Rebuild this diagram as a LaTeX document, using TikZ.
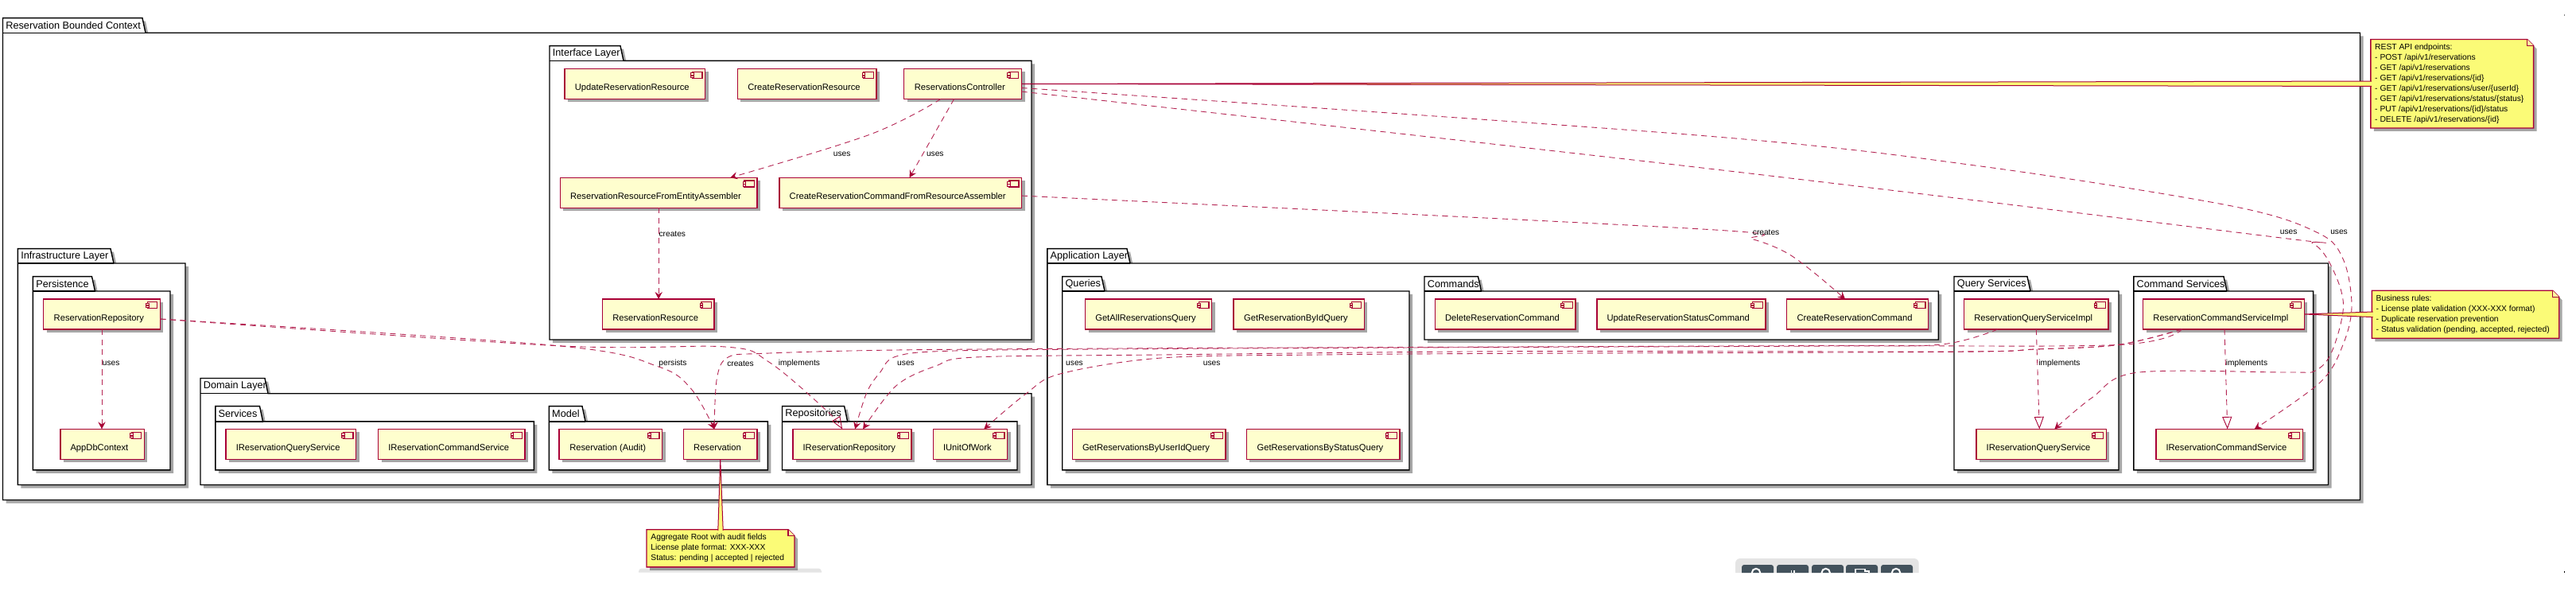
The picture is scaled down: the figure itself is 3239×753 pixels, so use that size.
\documentclass[tikz,border=0pt]{standalone}
\usepackage{xcolor}
\usepackage{fontspec}
\setmainfont{Liberation Sans}
\usepackage{tikz}
\usetikzlibrary{arrows.meta,shadows,calc}
\definecolor{umlred}{HTML}{A80036}
\definecolor{compfill}{HTML}{FEFECE}
\definecolor{notefill}{HTML}{FBFB77}
\definecolor{barback}{HTML}{E4E4E4}
\definecolor{barbutton}{HTML}{43525C}
% package with its tab: name, left, right, tab top, body top, bottom, tab right, label
\newcommand{\pkgbox}[8]{
  \draw[pkgline] (#2,#4) -- (#2,#6) -- (#3,#6) -- (#3,#5) -- (#7,#5) -- (#7-4,#4) -- cycle;
  \draw[pkgrule] (#2,#5) -- (#7,#5);
  \node[pkglabel] (#1) at (#2+3.5,{(#4+#5)/2}) {#8};
}
% note outline round an empty node, with the folded corner
\newcommand{\foldnote}[1]{
  \draw[noteline] (#1.north west) -- ([xshift=-4pt]#1.north east) -- ([yshift=-4pt]#1.north east) -- (#1.south east) -- (#1.south west) -- cycle;
  \draw[notefold] ([xshift=-4pt]#1.north east) -- ([xshift=-4pt,yshift=-4pt]#1.north east) -- ([yshift=-4pt]#1.north east);
}

\begin{document}
\begin{tikzpicture}[
    x=.5pt,y=-.5pt,
    pkgline/.style={draw=black,line width=.7pt,fill=white,drop shadow={shadow xshift=2pt,shadow yshift=-2pt,opacity=.35,fill=black}},
    pkgrule/.style={draw=black,line width=.7pt},
    pkglabel/.style={anchor=west,inner sep=0pt,font=\fontsize{6.35}{7.5}\selectfont},
    comp/.style={anchor=north west,draw=umlred,line width=.7pt,fill=compfill,minimum height=19pt,inner xsep=6.35pt,inner ysep=0pt,outer sep=0pt,
      text height=8.5pt,text depth=0pt,font=\fontsize{5.6}{6.5}\selectfont,execute at end node={\hspace{3.65pt}},
      drop shadow={shadow xshift=2pt,shadow yshift=-2pt,opacity=.35,fill=black},
      path picture={
        \draw[draw=umlred,line width=.6pt,fill=compfill] ([xshift=-1.85pt,yshift=-1.9pt]path picture bounding box.north east) rectangle ++(-6.15pt,-4pt);
        \draw[draw=umlred,line width=.5pt,fill=compfill] ([xshift=-7.15pt,yshift=-2.75pt]path picture bounding box.north east) rectangle ++(-1.85pt,-1.25pt);
        \draw[draw=umlred,line width=.5pt,fill=compfill] ([xshift=-7.15pt,yshift=-4.3pt]path picture bounding box.north east) rectangle ++(-1.85pt,-1.1pt);
      }},
    notebox/.style={anchor=north west,inner sep=0pt,outer sep=0pt},
    noteline/.style={draw=umlred,line width=.7pt,fill=notefill,drop shadow={shadow xshift=2pt,shadow yshift=-2pt,opacity=.35,fill=black}},
    notefold/.style={draw=umlred,line width=.55pt,fill=notefill!70!white},
    notetext/.style={anchor=west,inner sep=0pt,align=left,font=\fontsize{5.15}{6.5}\selectfont},
    wedge/.style={draw=umlred,line width=.5pt,fill=notefill},
    uses/.style={draw=umlred!85!white,line width=.45pt,dash pattern=on 3.6pt off 2.7pt,-{Stealth[length=4.5pt,width=4.6pt,inset=1.6pt,color=umlred]}},
    realizes/.style={draw=umlred!85!white,line width=.45pt,dash pattern=on 3.6pt off 2.7pt,-{Triangle[open,length=7.75pt,width=6pt,color=umlred]}},
    deplabel/.style={inner sep=0pt,font=\fontsize{5.1}{6}\selectfont}
  ]
    \useasboundingbox (0,0) rectangle (3239,753);
    \fill[white] (0,0) rectangle (3239,753);

    % packages
    \pkgbox{boundedCtx}{3.5}{2967.5}{22.6}{41.3}{628.5}{183}{Reservation Bounded Context}
    \pkgbox{interfaceLayer}{691}{1297}{57.6}{76.4}{427}{784}{Interface Layer}
    \pkgbox{infraLayer}{22.4}{233}{312.7}{331}{609.5}{143}{Infrastructure Layer}
    \pkgbox{persistence}{41.4}{214}{347.7}{366}{590.8}{119.5}{Persistence}
    \pkgbox{domainLayer}{252}{1297}{475.5}{494.7}{609.5}{337}{Domain Layer}
    \pkgbox{domServices}{270.8}{671.3}{510.6}{529.8}{590.8}{330.5}{Services}
    \pkgbox{domModel}{690.3}{965.3}{510.6}{529.8}{590.8}{736}{Model}
    \pkgbox{domRepos}{983.5}{1279}{510.6}{529.8}{590.8}{1065.6}{Repositories}
    \pkgbox{appLayer}{1316.8}{2927.5}{312.7}{331}{609.5}{1421}{Application Layer}
    \pkgbox{appQueries}{1335.7}{1772}{347.7}{366}{590.8}{1389}{Queries}
    \pkgbox{appCommands}{1791}{2437.3}{347.7}{366}{427}{1862.5}{Commands}
    \pkgbox{appQueryServices}{2457}{2664}{347.7}{366}{590.8}{2553}{Query Services}
    \pkgbox{appCmdServices}{2682.8}{2908.6}{347.7}{366}{590.8}{2800}{Command Services}

    % interface layer
    \node[comp,minimum width=88.35pt] (updRes) at (710,86.5) {UpdateReservationResource};
    \node[comp,minimum width=87.3pt] (createRes) at (927.4,86.5) {CreateReservationResource};
    \node[comp,minimum width=74pt] (ctrl) at (1136.5,86.5) {ReservationsController};
    \node[comp,minimum width=123.85pt] (resAsm) at (704.3,223.3) {ReservationResourceFromEntityAssembler};
    \node[comp,minimum width=152.25pt] (cmdAsm) at (980,223.3) {CreateReservationCommandFromResourceAssembler};
    \node[comp,minimum width=70.2pt] (resource) at (757.6,376) {ReservationResource};

    % infrastructure layer
    \node[comp,minimum width=73.3pt] (repo) at (54.7,376) {ReservationRepository};
    \node[comp,minimum width=52.25pt] (dbCtx) at (75.8,539.4) {AppDbContext};

    % domain layer
    \node[comp,minimum width=81.8pt] (domQuery) at (284,539.4) {IReservationQueryService};
    \node[comp,minimum width=91.55pt] (domCmd) at (475.6,539.4) {IReservationCommandService};
    \node[comp,minimum width=64.85pt] (auditRes) at (703,539.4) {Reservation (Audit)};
    \node[comp,minimum width=46.3pt] (reservation) at (859.4,539.4) {Reservation};
    \node[comp,minimum width=74.4pt] (iRepo) at (996.9,539.4) {IReservationRepository};
    \node[comp,minimum width=46.2pt] (uow) at (1173.3,539.4) {IUnitOfWork};

    % application layer
    \node[comp,minimum width=79.6pt] (qAll) at (1364.5,376) {GetAllReservationsQuery};
    \node[comp,minimum width=82.1pt] (qById) at (1551,376) {GetReservationByIdQuery};
    \node[comp,minimum width=95.75pt] (qByUser) at (1348.3,539.4) {GetReservationsByUserIdQuery};
    \node[comp,minimum width=96.4pt] (qByStatus) at (1567.2,539.4) {GetReservationsByStatusQuery};
    \node[comp,minimum width=88.05pt] (cDelete) at (1804.3,376) {DeleteReservationCommand};
    \node[comp,minimum width=105.7pt] (cUpdate) at (2007.8,376) {UpdateReservationStatusCommand};
    \node[comp,minimum width=89.05pt] (cCreate) at (2246.6,376) {CreateReservationCommand};
    \node[comp,minimum width=90.45pt] (qImpl) at (2469.6,376) {ReservationQueryServiceImpl};
    \node[comp,minimum width=100.65pt] (cImpl) at (2694.7,376) {ReservationCommandServiceImpl};
    \node[comp,minimum width=81.35pt] (appQuery) at (2485,539.4) {IReservationQueryService};
    \node[comp,minimum width=91.55pt] (appCmd) at (2710.8,539.4) {IReservationCommandService};

    % bars at the foot, cut off by the page edge
    \fill[barback,rounded corners=2pt] (803,719.5) -- (803,714.5) -- (1033,714.5) [sharp corners] -- (1033,719.5) -- cycle;
    \fill[barback,rounded corners=3pt] (2182,720) -- (2182,702) -- (2412.7,702) [sharp corners] -- (2412.7,720) -- cycle;
    \foreach \bx in {2190,2234,2278,2321,2365}
      \fill[barbutton,rounded corners=1.5pt] (\bx,720) -- (\bx,710) -- (\bx+40,710) [sharp corners] -- (\bx+40,720) -- cycle;
    \begin{scope}
      \clip (2182,702) rectangle (2413,720);
      \foreach \bx in {2208,2295.7,2384}
        \draw[white,line width=1pt] (\bx,720) circle[radius=2.6pt];
      \draw[white,line width=.8pt] (2252.5,716.5) -- (2252.5,720) (2256,716.5) -- (2256,720);
      \draw[white,line width=.8pt] (2333,720) -- (2333,715.5) -- (2345,715.5) -- (2345,718) -- (2350,718) -- (2350,720);
    \end{scope}
    \fill[gray] (3223.5,18.5) rectangle (3225,20);
    \fill[black] (3223.5,718) rectangle (3225,720);

    % notes
    \node[notebox,minimum width=102.4pt,minimum height=55.75pt] (restNote) at (2980.8,49.5) {};
    \foldnote{restNote}
    \node[notebox,minimum width=117.7pt,minimum height=30pt] (rulesNote) at (2982.3,365.3) {};
    \foldnote{rulesNote}
    \node[notebox,minimum width=93pt,minimum height=23.6pt] (rootNote) at (813,665.7) {};
    \foldnote{rootNote}
    \node[notetext] (restText) at ([xshift=2.5pt]restNote.west) {REST API endpoints:\\- POST /api/v1/reservations\\- GET /api/v1/reservations\\- GET /api/v1/reservations/\{id\}\\- GET /api/v1/reservations/user/\{userId\}\\- GET /api/v1/reservations/status/\{status\}\\- PUT /api/v1/reservations/\{id\}/status\\- DELETE /api/v1/reservations/\{id\}};
    \node[notetext] (rulesText) at ([xshift=2.5pt]rulesNote.west) {Business rules:\\- License plate validation (XXX-XXX format)\\- Duplicate reservation prevention\\- Status validation (pending, accepted, rejected)};
    \node[notetext] (rootText) at ([xshift=2.5pt]rootNote.west) {Aggregate Root with audit fields\\License plate format: XXX-XXX\\Status: pending | accepted | rejected};

    % note links
    \draw[wedge] ([xshift=.6pt,yshift=1.6pt]restNote.west) -- (ctrl.east) -- ([xshift=.6pt,yshift=-1.6pt]restNote.west);
    \draw[wedge] ([xshift=.6pt,yshift=1.65pt]rulesNote.west) -- (cImpl.east) -- ([xshift=.6pt,yshift=-1.65pt]rulesNote.west);
    \draw[wedge] ([xshift=-1.6pt,yshift=-.6pt]rootNote.north) -- (reservation.south) -- ([xshift=1.6pt,yshift=-.6pt]rootNote.north);

    % straight dependencies
    \draw[uses] (resAsm.south) -- (resAsm.south |- resource.north);
    \draw[uses] (repo.south) -- (repo.south |- dbCtx.north);
    \draw[realizes] (qImpl.south) -- ([xshift=-1.2pt]appQuery.north);
    \draw[realizes] ([xshift=.5pt]cImpl.south) -- ([xshift=-1.2pt]appCmd.north);
    \draw[uses] plot[smooth,tension=.6] coordinates {([xshift=-13.85pt]ctrl.south) (1094,169) ([xshift=45pt]resAsm.north)};
    \draw[uses] ([xshift=-5.45pt]ctrl.south) -- ([xshift=5.6pt]cmdAsm.north);

    % curved dependencies
    \draw[uses] plot[smooth,tension=.55] coordinates {([yshift=-3pt]repo.east) (701.5,434.7) (828,461) (870,490) ([xshift=-3.85pt]reservation.north)};
    \draw[realizes] plot[smooth,tension=.55] coordinates {([yshift=-3pt]repo.east) (701,434.7) (912,436) (966.7,455) (1038,515) ([xshift=-6.15pt]iRepo.north)};
    \draw[uses] plot[smooth,tension=.55] coordinates {([yshift=-1.9pt]cmdAsm.east) (2140,288) (2203,300.5) (2245,317) (2280,342) ([xshift=-7.8pt]cCreate.north)};
    \draw[uses] plot[smooth,tension=.55] coordinates {([yshift=-4.8pt]ctrl.east) (2140,211) (2860,298) (2908,306) (2932,336) (2946.5,384) (2932,442) (2911,466) (2876,468) (2687,468.3) (2631,499.5) ([xshift=8.3pt]appQuery.north)};
    \draw[uses] plot[smooth,tension=.55] coordinates {([yshift=-2.5pt]ctrl.east) (2140,170.5) (2490.6,209) (2806,259) (2915,293) (2946.5,326.6) (2957,384) (2946.5,432) (2918,480) ([xshift=15.8pt]appCmd.north)};
    \draw[uses] plot[smooth,tension=.55] coordinates {([xshift=-26.2pt]cImpl.south) (2663,433.5) (2300,434.5) (1900,436) (1460,437.7) (1127,440) (960,444.3) (915.5,449) (901.5,475) ([xshift=-3.85pt]reservation.north)};
    \draw[uses] plot[smooth,tension=.55] coordinates {([xshift=-24.15pt]qImpl.south) (2441,433) (2300,435) (1900,436.5) (1460,438.5) (1200,441) (1127,448) (1106.7,468) (1090,493) ([xshift=1.85pt]iRepo.north)};
    \draw[uses] plot[smooth,tension=.55] coordinates {([xshift=-26.2pt]cImpl.south) (2663,433.5) (2560,439) (2457,442) (1900,441.7) (1460,446) (1226.7,449) (1176.7,460) (1126.7,485) ([xshift=6.85pt]iRepo.north)};
    \draw[uses] plot[smooth,tension=.55] coordinates {([xshift=-26.2pt]cImpl.south) (2663,433.5) (2560,439) (2457,442.3) (1900,444.3) (1661,446) (1460,450) (1333,470) (1290,495) ([xshift=8.6pt]uow.north)};

    % labels
    \node[deplabel] (lblUses1) at (1058.6,194) {uses};
    \node[deplabel] (lblUses2) at (1175.8,194) {uses};
    \node[deplabel] (lblCreates1) at (845.3,294) {creates};
    \node[deplabel] (lblCreates2) at (2220.6,292) {creates};
    \node[deplabel] (lblUses3) at (2877.7,292) {uses};
    \node[deplabel] (lblUses4) at (2941,292) {uses};
    \node[deplabel] (lblUses5) at (139.6,457) {uses};
    \node[deplabel] (lblPersists) at (846,457) {persists};
    \node[deplabel] (lblCreates3) at (931,457) {creates};
    \node[deplabel] (lblImpl1) at (1005,457) {implements};
    \node[deplabel] (lblUses6) at (1139,457) {uses};
    \node[deplabel] (lblUses7) at (1351,457) {uses};
    \node[deplabel] (lblUses8) at (1523.7,457) {uses};
    \node[deplabel] (lblImpl2) at (2589.5,457) {implements};
    \node[deplabel] (lblImpl3) at (2825,457) {implements};
  \end{tikzpicture}
\end{document}
